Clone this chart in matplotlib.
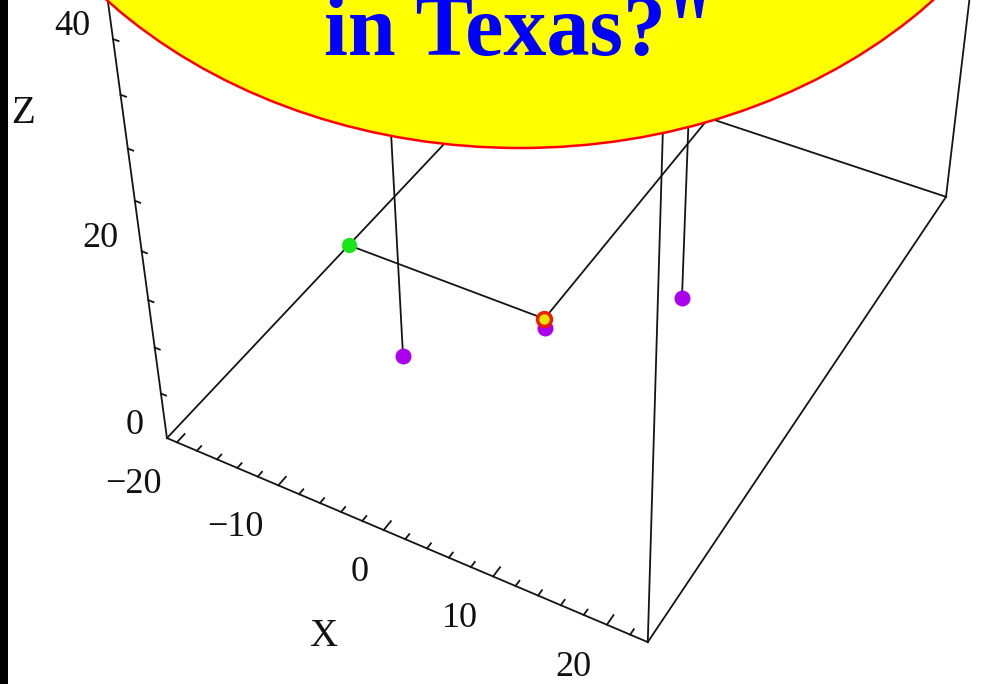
import numpy as np
import matplotlib.pyplot as plt
from matplotlib.patches import Ellipse, Rectangle
from mpl_toolkits.mplot3d import proj3d

# plot box
x_lim = (-21, 23.5)
y_lim = (-21, 23.5)
z_lim = (0, 50)

x_ticks = [-20, -10, 0, 10, 20]
x_tick_labels = ["\u221220", "\u221210", "0", "10", "20"]
x_minor = list(range(-20, 23, 2))
z_ticks = [0, 20, 40]
z_tick_labels = ["0", "20", "40"]
z_minor = list(range(5, 50, 5))

# points on the floor (z = 0)
hang_x = [-9.14, 8.41]     # purple points with a vertical line
hang_y = [-7.86, 5.57]
low_x = [-0.23]            # purple point without a line
low_y = [-1.24]
fix_x = -0.85              # red/yellow point, guides run to the walls
fix_y = -0.5

title = 'in Texas?"'

line_c = "#141414"
serif = "Liberation Serif"
lkw = dict(color=line_c, lw=1.3, zorder=1, clip_on=False)

fig = plt.figure(figsize=(9.99, 6.84), dpi=100)
ax = fig.add_axes([0.02463, 0.07454, 1.08167, 1.57981], projection="3d")
ax.set_xlim(*x_lim)
ax.set_ylim(*y_lim)
ax.set_zlim(*z_lim)
ax.set_box_aspect((1, 1.3422, 1.1435))
ax.view_init(elev=37.2184, azim=-61.5263, roll=-0.2248)
ax.set_proj_type("persp", focal_length=0.4311)
ax.set_axis_off()
ax.computed_zorder = False

x0, x1 = x_lim
y0, y1 = y_lim
z0, z1 = z_lim

# box edges
edges = []
for z in (z0, z1):
    edges += [((x0, y0, z), (x1, y0, z)), ((x1, y0, z), (x1, y1, z)),
              ((x1, y1, z), (x0, y1, z)), ((x0, y1, z), (x0, y0, z))]
for x, y in ((x0, y0), (x1, y0), (x1, y1), (x0, y1)):
    edges.append(((x, y, z0), (x, y, z1)))
for a, b in edges:
    ax.plot(*zip(a, b), **lkw)

# tick marks
for t in x_minor:
    ln = 0.8 if t % 10 == 0 else 0.45
    ax.plot([t, t], [y0, y0 + ln], [z0, z0], **lkw)
for t in z_minor:
    ax.plot([x0, x0 + 0.5], [y0, y0], [t, t], **lkw)

# guides from the red point to the walls
ax.plot([x0, fix_x], [fix_y, fix_y], [z0, z0], **lkw)
ax.plot([fix_x, fix_x], [fix_y, y1], [z0, z0], **lkw)

# vertical lines above the purple points
for hx, hy in zip(hang_x, hang_y):
    ax.plot([hx, hx], [hy, hy], [z0, z1], **lkw)

mkw = dict(mew=0, clip_on=False)
ax.plot(hang_x + low_x, hang_y + low_y, [z0] * 3, "o", color="#aa00ee", ms=11.5, zorder=3, **mkw)
ax.plot([x0], [fix_y], [z0], "o", color="#19e619", ms=11, zorder=3, **mkw)
ax.plot([fix_x], [fix_y], [z0], "o", color="#ee1c00", ms=12.5, zorder=4, **mkw)
ax.plot([fix_x], [fix_y], [z0], "o", color="#e6e600", ms=7.5, zorder=5, **mkw)

# tick labels and axis names, placed from the projected 3D positions
M = ax.get_proj()


def screen(x, y, z):
    xs, ys, _ = proj3d.proj_transform(x, y, z, M)
    return float(xs), float(ys)


tkw = dict(textcoords="offset pixels", family=serif, color="#111111")
for t, lab in zip(x_ticks, x_tick_labels):
    ax.annotate(lab, xy=screen(t, y0, z0), xytext=(-15, -51), ha="right",
                va="baseline", fontsize=26, **tkw)
for t, lab in zip(z_ticks, z_tick_labels):
    ax.annotate(lab, xy=screen(x0, y0, t), xytext=(-23, 4), ha="right",
                va="baseline", fontsize=26, **tkw)
ax.annotate("Z", xy=screen(x0, y0, 33.5), xytext=(-100, -12), ha="center",
            va="baseline", fontsize=28, **tkw)
ax.annotate("X", xy=screen(0, y0, z0), xytext=(-60, -116), ha="center",
            va="baseline", fontsize=28, **tkw)

# speech bubble over the top of the box
fig.add_artist(Ellipse((0.5205, 1.4254), 1.1051, 1.2836, transform=fig.transFigure,
                       facecolor="#ffff00", edgecolor="#ff0000", lw=1.8, zorder=2))
fig.text(0.519, 1 - 55 / 684, title, ha="center", va="baseline", fontsize=62,
         fontweight="bold", family=serif, color="#0000ff", zorder=4)

# dark strip on the left edge
fig.add_artist(Rectangle((0, 0), 8 / 999, 1, transform=fig.transFigure,
                         facecolor="black", edgecolor="none", zorder=5))

fig.savefig("out.png", dpi=100)
